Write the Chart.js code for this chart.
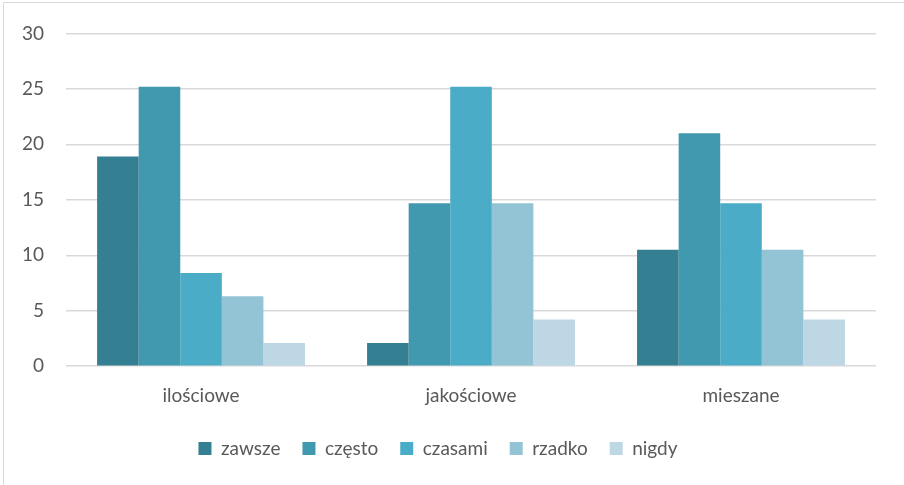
<!DOCTYPE html>
<html>
<head>
<meta charset="utf-8">
<script src="https://cdn.jsdelivr.net/npm/chart.js@4/dist/chart.umd.min.js"></script>
<style>
  html, body { margin: 0; padding: 0; background: #fff; overflow: hidden; }
  #frame {
    position: absolute; left: 3px; top: 2px;
    width: 910px; height: 490px;
    border: 1px solid #d9d9d9; box-sizing: border-box;
  }
  #wrap { position: absolute; left: 0; top: 0; width: 904px; height: 485px; }
</style>
</head>
<body>
<div id="frame"></div>
<div id="wrap"><canvas id="chart"></canvas></div>
<script>
// categories and series
const categories = ["ilościowe", "jakościowe", "mieszane"];
const seriesNames = ["zawsze", "często", "czasami", "rzadko", "nigdy"];
const zawsze = [18.9, 2.1, 10.5];
const czesto = [25.2, 14.7, 21.0];
const czasami = [8.4, 25.2, 14.7];
const rzadko = [6.3, 14.7, 10.5];
const nigdy = [2.1, 4.2, 4.2];

const seriesColors = ["#357F92", "#4199AF", "#4AACC6", "#93C4D6", "#BDD8E4"];
const textColor = "#595959";
const gridColor = "#d9d9d9";

Chart.defaults.font.family = "Lato, 'Open Sans', sans-serif";
Chart.defaults.color = textColor;

const values = [zawsze, czesto, czasami, rzadko, nigdy];

new Chart(document.getElementById("chart"), {
  type: "bar",
  data: {
    labels: categories,
    datasets: seriesNames.map((name, i) => ({
      label: name,
      data: values[i],
      backgroundColor: seriesColors[i],
      borderWidth: 0,
      categoryPercentage: 0.77,
      barPercentage: 1.0
    }))
  },
  options: {
    responsive: true,
    maintainAspectRatio: false,
    animation: false,
    layout: {
      padding: { left: 0, right: 28, top: 17, bottom: 17 }
    },
    scales: {
      x: {
        grid: { display: false },
        border: { display: false },
        ticks: { font: { size: 19 }, color: textColor, padding: 10 }
      },
      y: {
        min: 0,
        max: 30,
        ticks: { stepSize: 5, font: { size: 19 }, color: textColor, padding: 22 },
        grid: { color: gridColor, lineWidth: 1.5, drawTicks: false },
        border: { display: false }
      }
    },
    plugins: {
      legend: {
        position: "bottom",
        labels: {
          boxWidth: 13,
          boxHeight: 13,
          padding: 22,
          font: { size: 19 },
          color: textColor
        }
      },
      tooltip: { enabled: false }
    }
  }
});
</script>
</body>
</html>
